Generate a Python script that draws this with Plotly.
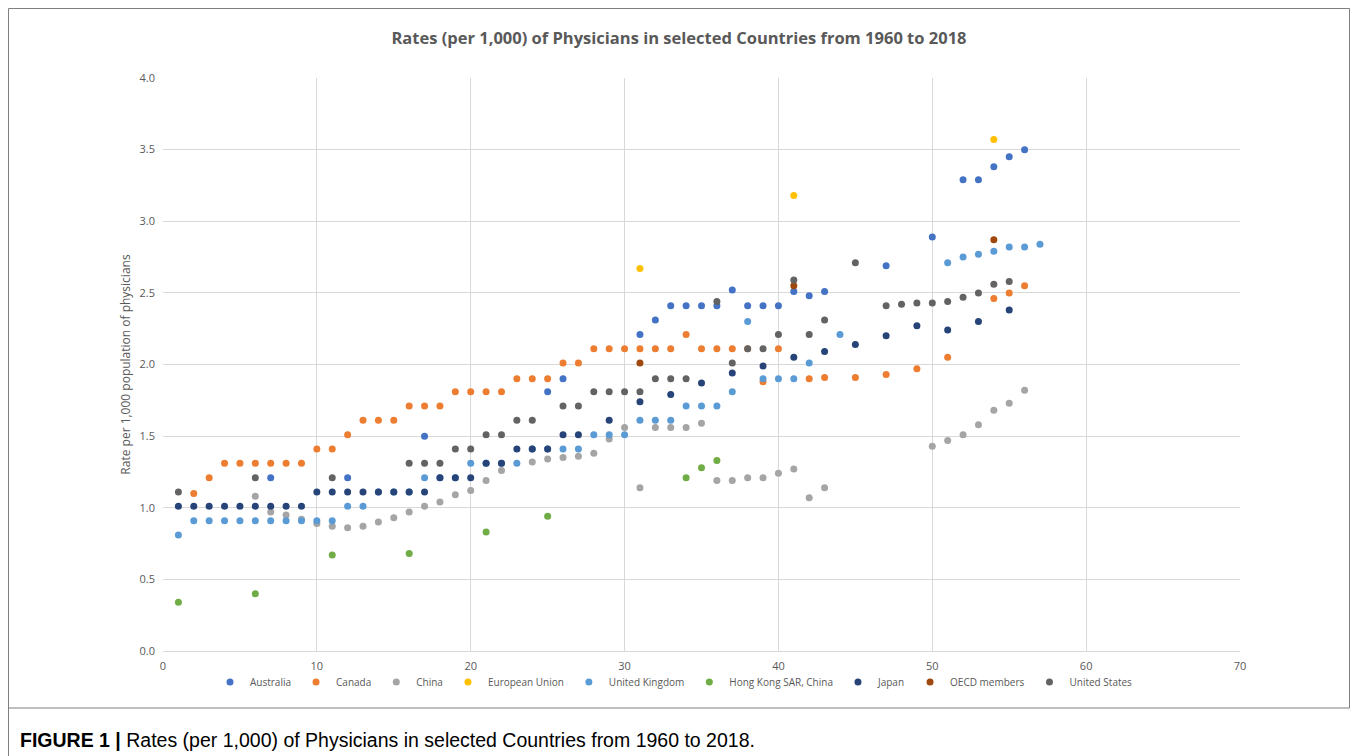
import plotly.graph_objects as go

# ---------------- data ----------------
aus_x = [7, 12, 17, 25, 26, 31, 32, 33, 34, 35, 36, 37, 38, 39, 40, 41, 42, 43, 47, 50, 52, 53, 54, 55, 56]
aus_y = [1.21, 1.21, 1.50, 1.81, 1.90, 2.21, 2.31, 2.41, 2.41, 2.41, 2.41, 2.52, 2.41, 2.41, 2.41, 2.51, 2.48, 2.51,
         2.69, 2.89, 3.29, 3.29, 3.38, 3.45, 3.50]

can_x = [2, 3, 4, 5, 6, 7, 8, 9, 10, 11, 12, 13, 14, 15, 16, 17, 18, 19, 20, 21, 22, 23, 24, 25, 26, 27,
         28, 29, 30, 31, 32, 33, 34, 35, 36, 37, 38, 39, 40, 42, 43, 45, 47, 49, 51, 54, 55, 56]
can_y = [1.10, 1.21, 1.31, 1.31, 1.31, 1.31, 1.31, 1.31, 1.41, 1.41, 1.51, 1.61, 1.61, 1.61, 1.71, 1.71, 1.71,
         1.81, 1.81, 1.81, 1.81, 1.90, 1.90, 1.90, 2.01, 2.01, 2.11, 2.11, 2.11, 2.11, 2.11, 2.11, 2.21,
         2.11, 2.11, 2.11, 2.11, 1.88, 2.11, 1.90, 1.91, 1.91, 1.93, 1.97, 2.05, 2.46, 2.50, 2.55]

chn_x = [6, 7, 8, 9, 10, 11, 12, 13, 14, 15, 16, 17, 18, 19, 20, 21, 22, 24, 25, 26, 27, 28, 29, 30, 31,
         32, 33, 34, 35, 36, 37, 38, 39, 40, 41, 42, 43, 50, 51, 52, 53, 54, 55, 56]
chn_y = [1.08, 0.97, 0.95, 0.92, 0.89, 0.87, 0.86, 0.87, 0.90, 0.93, 0.97, 1.01, 1.04, 1.09, 1.12, 1.19, 1.26,
         1.32, 1.34, 1.35, 1.36, 1.38, 1.48, 1.56, 1.14, 1.56, 1.56, 1.56, 1.59, 1.19, 1.19, 1.21, 1.21, 1.24,
         1.27, 1.07, 1.14, 1.43, 1.47, 1.51, 1.58, 1.68, 1.73, 1.82]

eu_x = [31, 41, 54]
eu_y = [2.67, 3.18, 3.57]

uk_x = [1, 2, 3, 4, 5, 6, 7, 8, 9, 10, 11, 12, 13, 14, 15, 16, 17, 18, 19, 20, 21, 22, 23, 24, 25, 26, 27,
        28, 29, 30, 31, 32, 33, 34, 35, 36, 37, 38, 39, 40, 41, 42, 44, 51, 52, 53, 54, 55, 56, 57]
uk_y = [0.81, 0.91, 0.91, 0.91, 0.91, 0.91, 0.91, 0.91, 0.91, 0.91, 0.91, 1.01, 1.01, 1.11, 1.11, 1.11, 1.21,
        1.21, 1.21, 1.31, 1.31, 1.31, 1.31, 1.41, 1.41, 1.41, 1.41, 1.51, 1.51, 1.51, 1.61, 1.61, 1.61, 1.71,
        1.71, 1.71, 1.81, 2.30, 1.90, 1.90, 1.90, 2.01, 2.21, 2.71, 2.75, 2.77, 2.79, 2.82, 2.82, 2.84]

hk_x = [1, 6, 11, 16, 21, 25, 34, 35, 36]
hk_y = [0.34, 0.40, 0.67, 0.68, 0.83, 0.94, 1.21, 1.28, 1.33]

jpn_x = [1, 2, 3, 4, 5, 6, 7, 8, 9, 10, 11, 12, 13, 14, 15, 16, 17, 18, 19, 20, 21, 22, 23, 24, 25, 26, 27,
         29, 31, 33, 35, 37, 39, 41, 43, 45, 47, 49, 51, 53, 55]
jpn_y = [1.01, 1.01, 1.01, 1.01, 1.01, 1.01, 1.01, 1.01, 1.01, 1.11, 1.11, 1.11, 1.11, 1.11, 1.11, 1.11, 1.11,
         1.21, 1.21, 1.21, 1.31, 1.31, 1.41, 1.41, 1.41, 1.51, 1.51, 1.61, 1.74, 1.79, 1.87, 1.94, 1.99, 2.05,
         2.09, 2.14, 2.20, 2.27, 2.24, 2.30, 2.38]

oecd_x = [31, 41, 54]
oecd_y = [2.01, 2.55, 2.87]

us_x = [1, 6, 11, 16, 17, 18, 19, 20, 21, 22, 23, 24, 26, 27, 28, 29, 30, 31, 32, 33, 34, 36, 37, 38, 39,
        40, 41, 42, 43, 45, 47, 48, 49, 50, 51, 52, 53, 54, 55]
us_y = [1.11, 1.21, 1.21, 1.31, 1.31, 1.31, 1.41, 1.41, 1.51, 1.51, 1.61, 1.61, 1.71, 1.71, 1.81, 1.81, 1.81,
        1.81, 1.90, 1.90, 1.90, 2.44, 2.01, 2.11, 2.11, 2.21, 2.59, 2.21, 2.31, 2.71, 2.41, 2.42, 2.43, 2.43,
        2.44, 2.47, 2.50, 2.56, 2.58]

series = [
    ("Australia", aus_x, aus_y, "#4472C4"),
    ("Canada", can_x, can_y, "#ED7D31"),
    ("China", chn_x, chn_y, "#A5A5A5"),
    ("European Union", eu_x, eu_y, "#FFC000"),
    ("United Kingdom", uk_x, uk_y, "#5B9BD5"),
    ("Hong Kong SAR, China", hk_x, hk_y, "#70AD47"),
    ("Japan", jpn_x, jpn_y, "#264478"),
    ("OECD members", oecd_x, oecd_y, "#9E480E"),
    ("United States", us_x, us_y, "#636363"),
]

x_ticks = [0, 10, 20, 30, 40, 50, 60, 70]
y_ticks = [0.0, 0.5, 1.0, 1.5, 2.0, 2.5, 3.0, 3.5, 4.0]

TITLE = "Rates (per 1,000) of Physicians in selected Countries from 1960 to 2018"
CAPTION = "<b>FIGURE 1 |</b> Rates (per 1,000) of Physicians in selected Countries from 1960 to 2018."

FONT = "Open Sans, sans-serif"
GRAY = "#595959"

# the page body has an 8px margin: shift the figure so it lands at page pixels
OFF = 8
PAGE_W, PAGE_H = 1358, 756
W, H = PAGE_W - OFF, PAGE_H - OFF
# plot area in page pixels
L, R, T, B = 163, 1240, 78, 651
pw, ph = R - L, B - T


def px(x):
    return (x - L) / pw


def py(y):
    return (B - y) / ph


fig = go.Figure()
for name, xs, ys, col in series:
    fig.add_trace(go.Scatter(x=xs, y=ys, mode="markers", name=name,
                             marker=dict(color=col, size=7, line=dict(width=0))))

fig.update_layout(
    width=W, height=H,
    margin=dict(l=L - OFF, r=PAGE_W - R, t=T - OFF, b=PAGE_H - B, pad=0),
    paper_bgcolor="white", plot_bgcolor="white",
    showlegend=True,
    font=dict(family=FONT, color=GRAY, size=11),
    title=dict(text="<b>" + TITLE + "</b>", x=(679 - OFF) / W, xanchor="center",
               y=1 - (38 - OFF) / H, yanchor="middle", font=dict(size=16.5, color=GRAY, family=FONT)),
    legend=dict(orientation="h", x=px(674), xanchor="center", y=py(682), yanchor="middle",
                font=dict(size=10, color=GRAY, family=FONT), itemwidth=30,
                bgcolor="rgba(0,0,0,0)", tracegroupgap=0),
    xaxis=dict(range=[0, 70], tickvals=x_ticks, showgrid=True, gridcolor="#D9D9D9", gridwidth=1,
               zeroline=False, showline=True, linecolor="#D9D9D9", linewidth=1,
               ticks="", ticklabelstandoff=5, tickfont=dict(size=11, color=GRAY), mirror=False),
    yaxis=dict(range=[0, 4], tickvals=y_ticks, tickformat=".1f", showgrid=True, gridcolor="#D9D9D9",
               gridwidth=1, zeroline=False, showline=False, ticks="", ticklabelstandoff=7,
               tickfont=dict(size=11, color=GRAY),
               title=dict(text="Rate per 1,000 population of physicians", standoff=6,
                          font=dict(size=12, color=GRAY))),
)

# outer figure frame and caption bar
fig.add_shape(type="rect", xref="paper", yref="paper",
              x0=px(8.5), x1=px(1349.5), y0=py(708), y1=py(8.5),
              line=dict(color="#7F7F7F", width=1), fillcolor="rgba(0,0,0,0)", layer="below")
fig.add_shape(type="line", xref="paper", yref="paper",
              x0=px(8.5), x1=px(8.5), y0=py(756), y1=py(708),
              line=dict(color="#7F7F7F", width=1))

fig.add_annotation(text=CAPTION, xref="paper", yref="paper", x=px(18), y=py(740),
                   xanchor="left", yanchor="middle", showarrow=False,
                   font=dict(family="Liberation Sans, Arial, sans-serif", size=19.5, color="#000000"))

fig.write_html("out.html")
